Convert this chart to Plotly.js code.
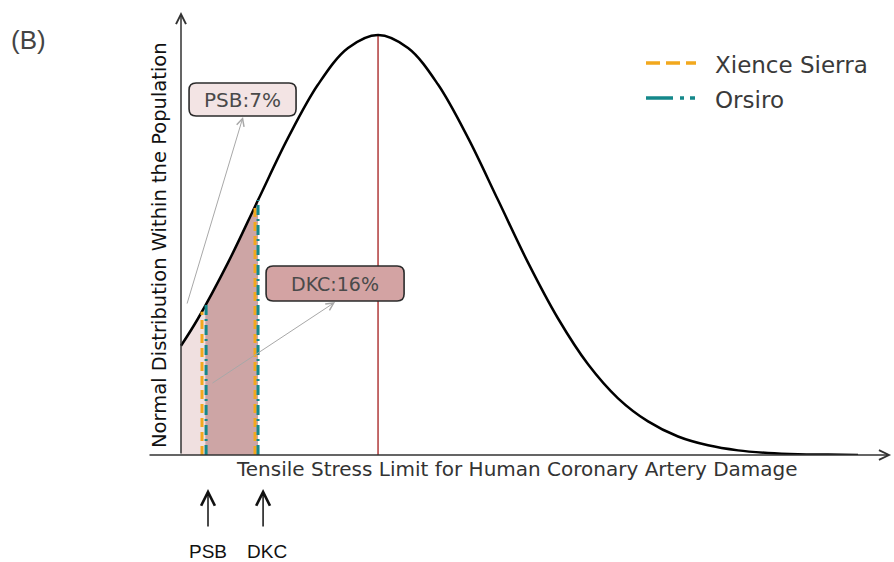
<!DOCTYPE html>
<html>
<head>
<meta charset="utf-8">
<script src="https://cdn.plot.ly/plotly-3.0.1.min.js"></script>
<style>html,body{margin:0;padding:0;background:#fff;}#chart{width:894px;height:562px;}</style>
</head>
<body>
<div id="chart"></div>
<script>
// Normal-distribution curve (x in SD units from the mean, y relative to peak)
const curveX = [-1.642, -1.5, -1.25, -1.0, -0.75, -0.5, -0.25, 0, 0.25, 0.5, 0.75, 1.0, 1.25, 1.5, 1.75, 2.0, 2.25, 2.5, 2.75, 3.0, 3.25, 3.5, 3.75, 4.0];
const curveY = [0.260, 0.325, 0.458, 0.607, 0.755, 0.882, 0.969, 1.000, 0.969, 0.882, 0.755, 0.607, 0.458, 0.325, 0.216, 0.135, 0.080, 0.044, 0.023, 0.011, 0.005, 0.002, 0.001, 0.000];

// Shaded tails
const psbFillX = [-1.642, -1.54, -1.44];
const psbFillY = [0.260, 0.305, 0.355];
const dkcFillX = [-1.44, -1.33, -1.22, -1.11, -1.0];
const dkcFillY = [0.355, 0.413, 0.475, 0.540, 0.607];

// Stent limit lines [PSB, DKC]
const xienceX = [-1.467, -1.025];
const xienceY = [0.341, 0.591];
const orsiroX = [-1.433, -1.0];
const orsiroY = [0.358, 0.607];

const meanX = 0;
const peakY = 1.0;

const labels = ['PSB:7%', 'DKC:16%'];
const markers = ['PSB', 'DKC'];
const seriesNames = ['Xience Sierra', 'Orsiro'];

function vlines(xs, ys) {
  const x = [], y = [];
  xs.forEach((v, i) => { x.push(v, v, null); y.push(0, ys[i], null); });
  return {x, y};
}

const FONT = 'DejaVu Sans, sans-serif';
const xRange = [-1.917, 4.283];
const yRange = [0, 1.0595];
const XIENCE_COLOR = '#f2a81d';
const ORSIRO_COLOR = '#14888a';
const XIENCE_DASH = '14px,6px';
const ORSIRO_DASH = '10px,4px,2px,4px';

const xl = vlines(xienceX, xienceY);
const ol = vlines(orsiroX, orsiroY);

const traces = [
  {x: psbFillX, y: psbFillY, type: 'scatter', mode: 'lines', fill: 'tozeroy',
   fillcolor: 'rgba(240,224,224,1)', line: {width: 0, shape: 'spline'}, showlegend: false, hoverinfo: 'skip'},
  {x: dkcFillX, y: dkcFillY, type: 'scatter', mode: 'lines', fill: 'tozeroy',
   fillcolor: 'rgba(205,165,165,1)', line: {width: 0, shape: 'spline'}, showlegend: false, hoverinfo: 'skip'},
  {x: [meanX, meanX], y: [0, peakY], type: 'scatter', mode: 'lines',
   line: {color: '#b03a3a', width: 1.5}, showlegend: false, hoverinfo: 'skip'},
  {x: curveX, y: curveY, type: 'scatter', mode: 'lines',
   line: {color: '#000', width: 2.5, shape: 'spline'}, showlegend: false, hoverinfo: 'skip'},
  {x: xl.x, y: xl.y, type: 'scatter', mode: 'lines', name: seriesNames[0], showlegend: false,
   line: {color: XIENCE_COLOR, width: 3, dash: '9px,5px'}},
  {x: ol.x, y: ol.y, type: 'scatter', mode: 'lines', name: seriesNames[1], showlegend: false,
   line: {color: ORSIRO_COLOR, width: 3, dash: ORSIRO_DASH}}
];

function rrect(w, h, r) {
  const a = w / 2, b = h / 2;
  return `M${-a + r},${-b} L${a - r},${-b} Q${a},${-b} ${a},${-b + r} L${a},${b - r} Q${a},${b} ${a - r},${b} ` +
         `L${-a + r},${b} Q${-a},${b} ${-a},${b - r} L${-a},${-b + r} Q${-a},${-b} ${-a + r},${-b} Z`;
}

const boxes = [
  {cx: -1.129, cy: 0.8464, w: 107, h: 33, fill: '#f3e4e4', tipX: -1.125, tipY: 0.805, tailX: -1.595, tailY: 0.357},
  {cx: -0.358, cy: 0.4083, w: 138, h: 35, fill: '#d3a3a3', tipX: -0.358, tipY: 0.364, tailX: -1.392, tailY: 0.169}
];

const shapes = boxes.map(b => ({
  type: 'path', xref: 'x', yref: 'y', xsizemode: 'pixel', ysizemode: 'pixel',
  xanchor: b.cx, yanchor: b.cy, path: rrect(b.w, b.h, 7),
  fillcolor: b.fill, line: {color: '#2b2b2b', width: 1.6}, layer: 'above'
}));

// manual legend (paper coords: plot area is 744 x 445 px, origin at pixel (148,455))
const px = v => (v - 148) / 744;
const py = v => (455 - v) / 445;
const legendRows = [
  {name: seriesNames[0], color: XIENCE_COLOR, dash: XIENCE_DASH, y: 63},
  {name: seriesNames[1], color: ORSIRO_COLOR, dash: '27px,7px,4px,6px,5px,20px', y: 98}
];
legendRows.forEach(r => {
  shapes.push({type: 'line', xref: 'paper', yref: 'paper', x0: px(646), x1: px(696), y0: py(r.y), y1: py(r.y),
    line: {color: r.color, width: 3.5, dash: r.dash}});
});

const annotations = [];
legendRows.forEach(r => {
  annotations.push({x: px(713), y: py(r.y + 2), xref: 'paper', yref: 'paper', xanchor: 'left', yanchor: 'middle',
    text: r.name, showarrow: false, font: {family: FONT, size: 23, color: '#3a3a3a'}});
});
// annotation arrows (gray)
boxes.forEach((b, i) => {
  annotations.push({x: b.tipX, y: b.tipY, ax: b.tailX, ay: b.tailY, axref: 'x', ayref: 'y', xref: 'x', yref: 'y',
    text: '', showarrow: true, arrowhead: 5, arrowsize: 1.5, arrowwidth: 1, arrowcolor: '#a8a8a8'});
});
boxes.forEach((b, i) => {
  annotations.push({x: b.cx, y: b.cy, xref: 'x', yref: 'y', text: labels[i], showarrow: false,
    font: {family: FONT, size: i === 0 ? 20 : 19, color: '#4a4a4a'}});
});
// axes with arrow heads
annotations.push({x: 4.275, y: 0, ax: xRange[0], ay: 0, axref: 'x', ayref: 'y', xref: 'x', yref: 'y',
  text: '', showarrow: true, arrowhead: 5, arrowsize: 1.3, arrowwidth: 1.5, arrowcolor: '#333'});
annotations.push({x: -1.642, y: 1.0548, ax: -1.642, ay: 0, axref: 'x', ayref: 'y', xref: 'x', yref: 'y',
  text: '', showarrow: true, arrowhead: 5, arrowsize: 1.3, arrowwidth: 1.5, arrowcolor: '#333'});
// axis titles
annotations.push({x: px(517), y: py(469), xref: 'paper', yref: 'paper', yanchor: 'middle', xanchor: 'center',
  text: 'Tensile Stress Limit for Human Coronary Artery Damage', showarrow: false,
  font: {family: FONT, size: 20, color: '#333'}});
annotations.push({x: px(160), y: py(245), xref: 'paper', yref: 'paper', textangle: -90, xanchor: 'center', yanchor: 'middle',
  text: 'Normal Distribution Within the Population', showarrow: false,
  font: {family: FONT, size: 19.5, color: '#111'}});
// PSB / DKC markers below axis
const markerX = [-1.417, -0.958];
const markerLabelX = [-1.418, -0.928];
markers.forEach((m, i) => {
  annotations.push({x: markerX[i], y: py(489), xref: 'x', yref: 'paper', ax: 0, ay: 39, text: '', showarrow: true,
    arrowhead: 5, arrowsize: 1.8, arrowwidth: 1.5, arrowcolor: '#111'});
  annotations.push({x: markerLabelX[i], y: py(551), xref: 'x', yref: 'paper', text: m, showarrow: false,
    yanchor: 'middle', font: {family: 'Liberation Sans, Arial, sans-serif', size: 19, color: '#111'}});
});
annotations.push({x: px(28), y: py(40), xref: 'paper', yref: 'paper', text: '(B)', showarrow: false,
  xanchor: 'center', yanchor: 'middle', font: {family: 'Liberation Sans, Arial, sans-serif', size: 26, color: '#444'}});

const layout = {
  width: 894, height: 562,
  margin: {l: 148, r: 2, t: 10, b: 107},
  paper_bgcolor: '#fff', plot_bgcolor: 'rgba(0,0,0,0)',
  xaxis: {range: xRange, showgrid: false, zeroline: false, showticklabels: false, showline: false, ticks: '', fixedrange: true},
  yaxis: {range: yRange, showgrid: false, zeroline: false, showticklabels: false, showline: false, ticks: '', fixedrange: true},
  showlegend: false,
  shapes, annotations
};

Plotly.newPlot('chart', traces, layout, {displayModeBar: false, staticPlot: true});
</script>
</body>
</html>
